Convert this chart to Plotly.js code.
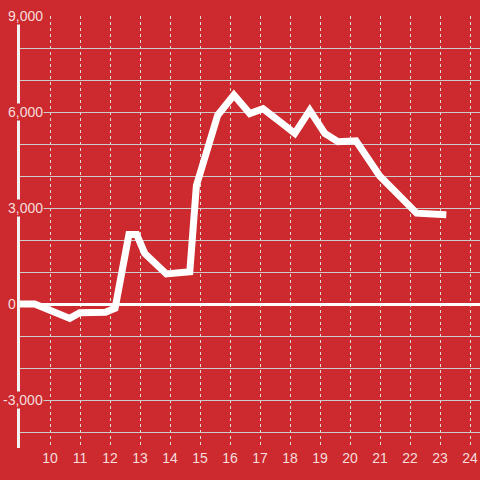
<!DOCTYPE html>
<html>
<head>
<meta charset="utf-8">
<script src="https://cdn.plot.ly/plotly-3.0.1.min.js"></script>
<style>
  html, body { margin: 0; padding: 0; background: #cc2a2e; }
  #chart { width: 480px; height: 480px; }
</style>
</head>
<body>
<div id="chart"></div>
<script>
// Hour of day
const hours = [8.9, 9.49, 10.66, 10.99, 11.85, 12.17, 12.63, 12.89, 13.16, 13.88, 14.66, 14.88, 15.59, 16.13, 16.66, 17.1, 17.73, 18.16, 18.66, 19.16, 19.6, 20.2, 20.99, 21.56, 22.22, 23.21];
// Values
const values = [0, 0, -450, -270, -260, -130, 2170, 2170, 1580, 940, 1010, 3700, 5900, 6530, 5950, 6100, 5650, 5330, 6050, 5330, 5070, 5100, 4000, 3470, 2840, 2790];
// Y tick labels
const yTickVals = [9000, 6000, 3000, 0, -3000];
const yTickText = ['9,000', '6,000', '3,000', '0', '-3,000'];
// X ticks
const xTickVals = [10, 11, 12, 13, 14, 15, 16, 17, 18, 19, 20, 21, 22, 23, 24];

const bg = '#cc2a2e';
const txt = 'rgba(255,255,255,0.85)';

const trace = {
  x: hours, y: values, type: 'scatter', mode: 'lines',
  line: { color: '#ffffff', width: 7 },
  hoverinfo: 'skip'
};

const annotations = yTickVals.map((v, i) => ({
  xref: 'paper', yref: 'y', x: v === 0 ? -0.007 : 0.0522, y: v,
  xanchor: 'right', yanchor: 'middle',
  text: yTickText[i], showarrow: false,
  bgcolor: bg, borderpad: 0,
  font: { family: 'Liberation Sans, Arial, sans-serif', size: 14, color: txt }
}));

const layout = {
  width: 480, height: 480,
  margin: { l: 20, r: 0, t: 16, b: 32 },
  paper_bgcolor: bg, plot_bgcolor: bg,
  showlegend: false,
  xaxis: {
    range: [9, 24.333],
    tickvals: xTickVals,
    ticktext: xTickVals.map(String),
    showgrid: true, gridcolor: '#dddddd', gridwidth: 1, griddash: 'dot',
    zeroline: false, showline: false, ticks: '',
    tickfont: { family: 'Liberation Sans, Arial, sans-serif', size: 14, color: txt }
  },
  yaxis: {
    range: [-4500, 9000],
    dtick: 1000, tick0: 0,
    showticklabels: false,
    showgrid: true, gridcolor: '#cccccc', gridwidth: 1,
    zeroline: true, zerolinecolor: '#ffffff', zerolinewidth: 3,
    showline: true, linecolor: '#f2f2f2', linewidth: 3, ticks: ''
  },
  annotations: annotations
};

Plotly.newPlot('chart', [trace], layout, { displayModeBar: false, staticPlot: true });
</script>
</body>
</html>
